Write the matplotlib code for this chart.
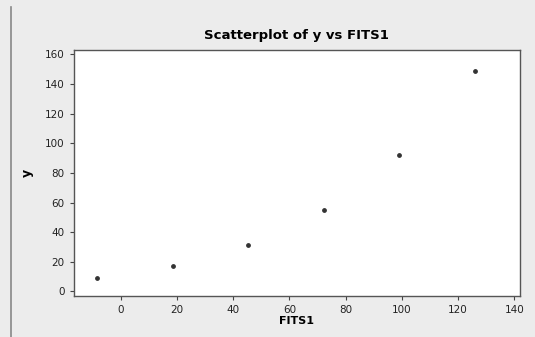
import matplotlib.pyplot as plt

fits1 = [-8.6, 18.4, 45.3, 72.2, 99.1, 126.0]
y = [9, 17, 31, 55, 92, 149]
x_ticks = [0, 20, 40, 60, 80, 100, 120, 140]
y_ticks = [0, 20, 40, 60, 80, 100, 120, 140, 160]

fig = plt.figure(figsize=(5.35, 3.37), dpi=100, facecolor='#ececec')
ax = fig.add_axes([0.138, 0.122, 0.834, 0.730])
ax.set_facecolor('white')

ax.scatter(fits1, y, s=6, color='#333333', zorder=3)

ax.set_xlim(-16.7, 142)
ax.set_ylim(-3, 163)
ax.set_xticks(x_ticks)
ax.set_yticks(y_ticks)
ax.tick_params(labelsize=7.5, length=3, width=0.8, color='#444444', labelcolor='#222222')

for side in ax.spines.values():
    side.set_color('#555555')
    side.set_linewidth(1.0)

ax.set_title('Scatterplot of y vs FITS1', fontsize=9.5, fontweight='bold', pad=8)
ax.set_xlabel('FITS1', fontsize=8, fontweight='bold', labelpad=1)
ax.set_ylabel('y', fontsize=9, fontweight='bold', labelpad=8)

# left edge line of the panel
fig.add_artist(plt.Line2D([0.02, 0.02], [0.0, 0.98], color='#888888', lw=1.2))

fig.savefig('out.png', dpi=100, facecolor=fig.get_facecolor())
